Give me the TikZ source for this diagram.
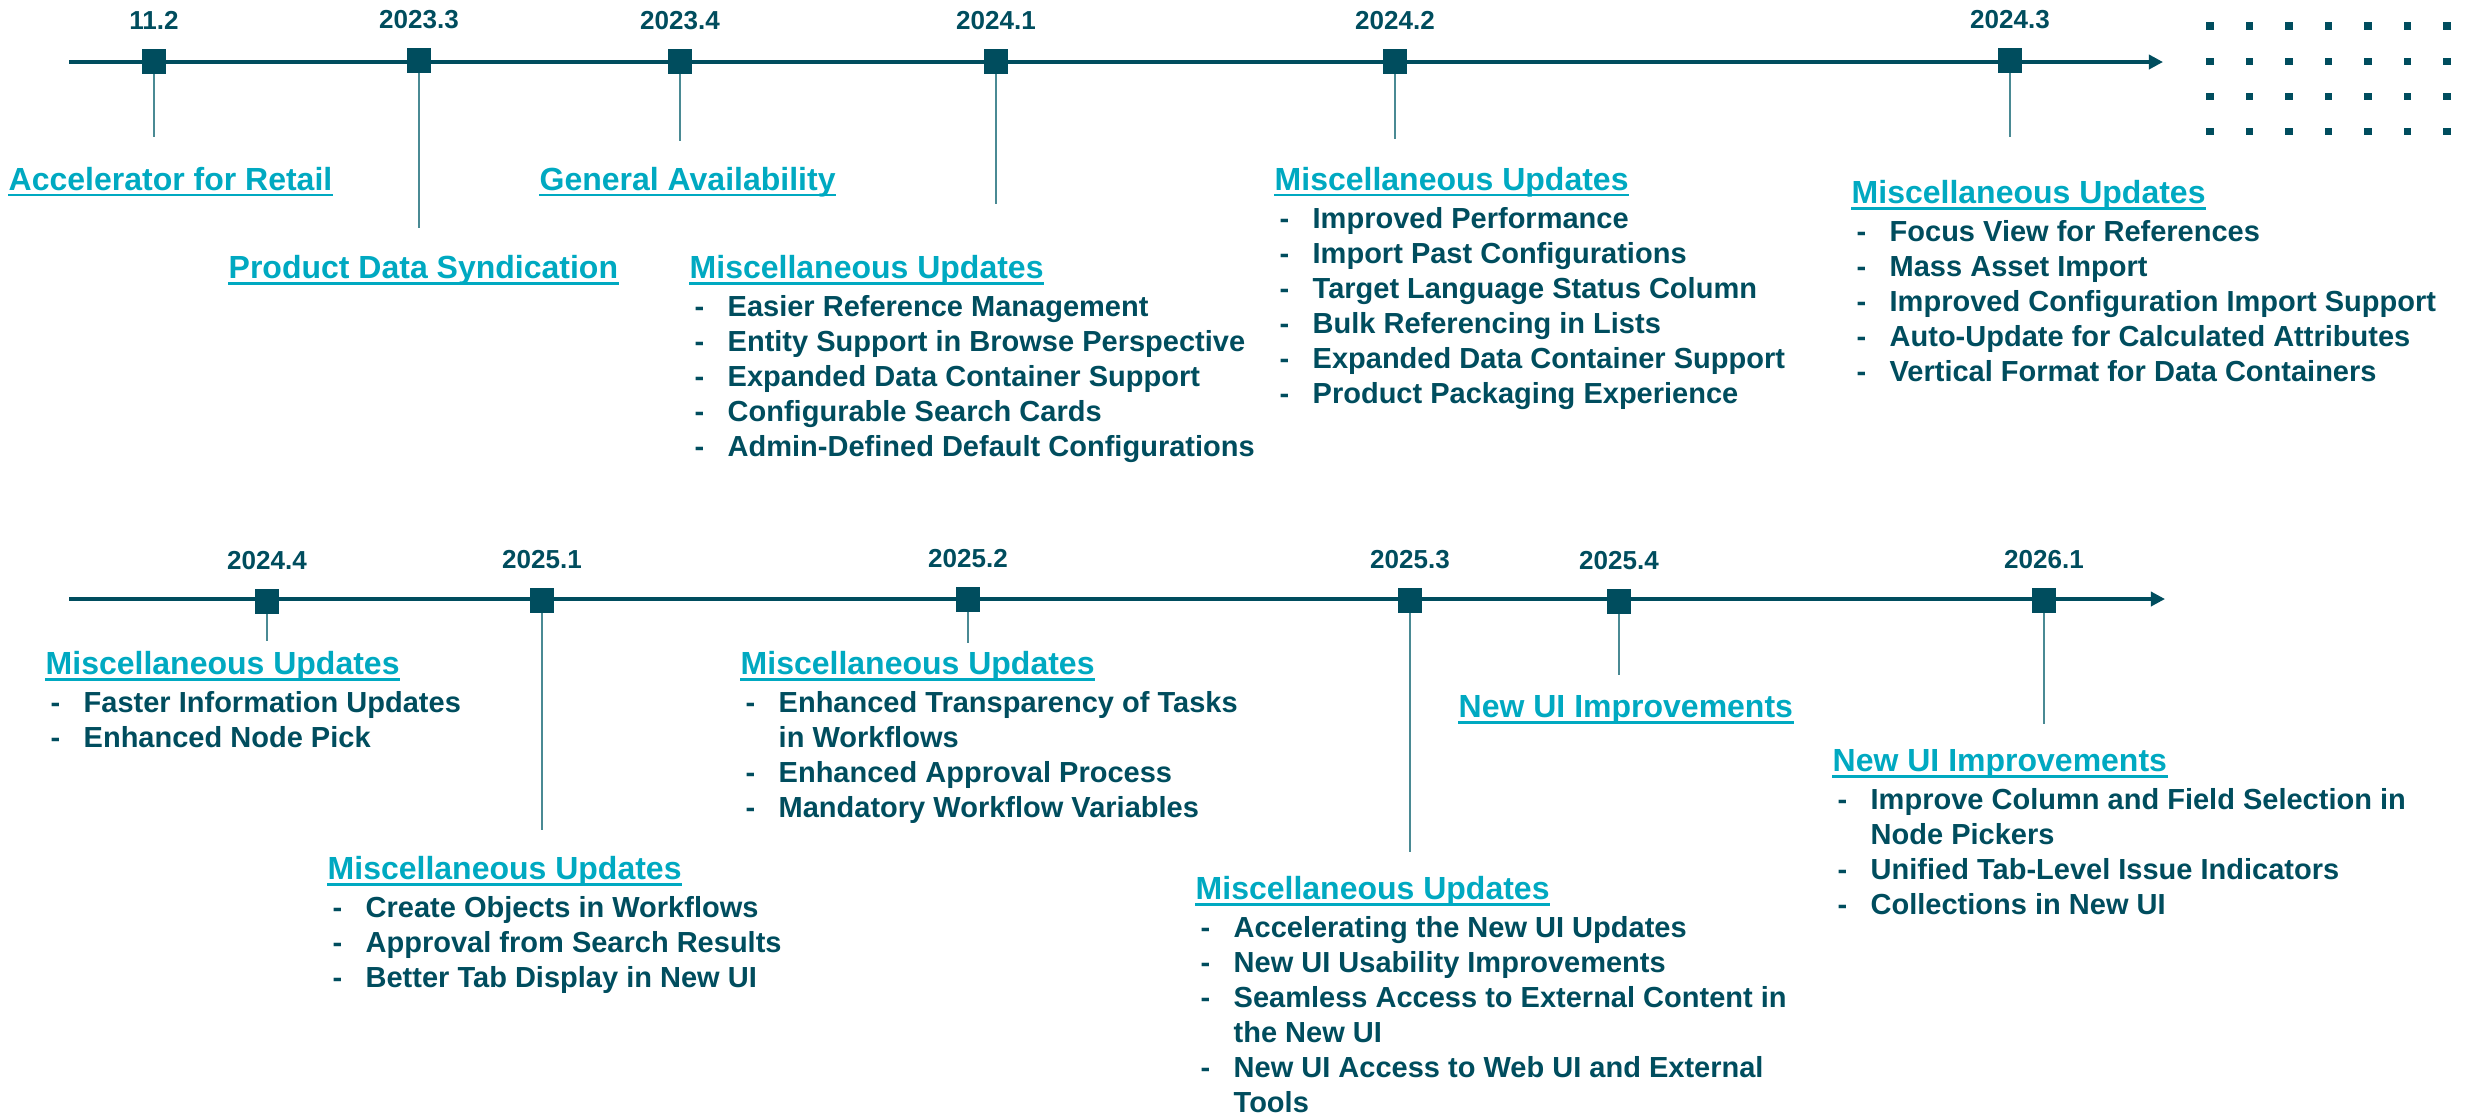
\documentclass[tikz,border=0pt]{standalone}
\usepackage{fontspec}
\setmainfont{Liberation Sans}
\usetikzlibrary{arrows.meta,positioning}

\definecolor{deep}{HTML}{004D5E}
\definecolor{stemc}{HTML}{4A8A94}
\definecolor{tealt}{HTML}{00A9C1}

\newcommand\datefont{\fontsize{7.4pt}{9pt}\selectfont\bfseries}
\newcommand\headfont{\fontsize{9.1pt}{11pt}\selectfont\bfseries}
\newcommand\itemfont{\fontsize{8.25pt}{9.96pt}\selectfont\bfseries}
\newcommand\itm[1]{\strut\makebox[9.4pt][l]{-}#1}
\newcommand\cnt[1]{\strut\hspace*{9.4pt}#1}

\tikzset{
  axis/.style={deep,line width=0.94pt,-{Triangle[length=4pt,width=4pt]}},
  mark box/.style={rectangle,fill=deep,inner sep=0,minimum width=6.83pt,minimum height=7.11pt},
  stem/.style={stemc,line width=0.57pt},
  date/.style={text=deep,font=\datefont,anchor=base,inner sep=0},
  head/.style={text=tealt,font=\headfont,anchor=base west,inner sep=0},
  uline/.style={tealt,line width=0.85pt},
  items/.style={text=deep,font=\itemfont,align=left,inner sep=0},
  dot/.style={rectangle,fill=deep,inner sep=0,minimum width=2pt,minimum height=2pt}
}

\begin{document}
\begin{tikzpicture}[x=0.01cm,y=-0.01cm]
\useasboundingbox (0,0) rectangle (2468,1114);

% the two time axes
\coordinate (top start) at (69,62);
\coordinate (top end) at (2163,62);
\coordinate (low start) at (69,599);
\coordinate (low end) at (2165,599);
\draw[axis] (top start) -- (top end);
\draw[axis] (low start) -- (low end);

% milestones: name/x/y/date/end of stem
\foreach \n/\px/\py/\d/\e in {a/154/61/11.2/137, b/419/60/2023.3/228, c/680/61/2023.4/141,
  d/996/61/2024.1/204, e/1395/61/2024.2/139, f/2010/60/2024.3/137,
  g/267/601/2024.4/641, h/542/600/2025.1/830, i/968/599/2025.2/643,
  j/1410/600/2025.3/852, k/1619/601/2025.4/675, l/2044/600/2026.1/724}{
  \coordinate (s\n) at (\px,\e);
  \draw[stem] (\px,\py) -- (s\n);
  \node[mark box] (m\n) at (\px,\py) {};
  \node[date] (d\n) at ([yshift=9pt]m\n.center) {\d};
}

% dot grid
\foreach \i in {0,...,6}
  \foreach \j in {0,...,3}
    \node[dot] (p\i\j) at (2210+39.5*\i,26+35.3*\j) {};

% headings
\node[head] (ta) at (8,190) {Accelerator for Retail};
\node[head] (tb) at (228,278) {Product Data Syndication};
\node[head] (tc) at (539,190) {General Availability};
\node[head] (td) at (689,278) {Miscellaneous Updates};
\node[head] (te) at (1274,190) {Miscellaneous Updates};
\node[head] (tf) at (1851,203) {Miscellaneous Updates};
\node[head] (tg) at (45,674) {Miscellaneous Updates};
\node[head] (th) at (327,879) {Miscellaneous Updates};
\node[head] (ti) at (740,674) {Miscellaneous Updates};
\node[head] (tj) at (1195,899) {Miscellaneous Updates};
\node[head] (tk) at (1458,717) {New UI Improvements};
\node[head] (tl) at (1832,771) {New UI Improvements};
\foreach \n in {a,b,c,d,e,f,g,h,i,j,k,l}
  \draw[uline] ([yshift=-1.42pt]t\n.base west) -- ([yshift=-1.42pt]t\n.base east);

% item lists
\node[items,below right=3.84pt and 1.4pt of td.base west] (id) {%
  \itm{Easier Reference Management}\\
  \itm{Entity Support in Browse Perspective}\\
  \itm{Expanded Data Container Support}\\
  \itm{Configurable Search Cards}\\
  \itm{Admin-Defined Default Configurations}};
\node[items,below right=3.84pt and 1.4pt of te.base west] (ie) {%
  \itm{Improved Performance}\\
  \itm{Import Past Configurations}\\
  \itm{Target Language Status Column}\\
  \itm{Bulk Referencing in Lists}\\
  \itm{Expanded Data Container Support}\\
  \itm{Product Packaging Experience}};
\node[items,below right=3.84pt and 1.4pt of tf.base west] (if) {%
  \itm{Focus View for References}\\
  \itm{Mass Asset Import}\\
  \itm{Improved Configuration Import Support}\\
  \itm{Auto-Update for Calculated Attributes}\\
  \itm{Vertical Format for Data Containers}};
\node[items,below right=3.84pt and 1.4pt of tg.base west] (ig) {%
  \itm{Faster Information Updates}\\
  \itm{Enhanced Node Pick}};
\node[items,below right=3.84pt and 1.4pt of th.base west] (ih) {%
  \itm{Create Objects in Workflows}\\
  \itm{Approval from Search Results}\\
  \itm{Better Tab Display in New UI}};
\node[items,below right=3.84pt and 1.4pt of ti.base west] (ii) {%
  \itm{Enhanced Transparency of Tasks}\\
  \cnt{in Workflows}\\
  \itm{Enhanced Approval Process}\\
  \itm{Mandatory Workflow Variables}};
\node[items,below right=3.84pt and 1.4pt of tj.base west] (ij) {%
  \itm{Accelerating the New UI Updates}\\
  \itm{New UI Usability Improvements}\\
  \itm{Seamless Access to External Content in}\\
  \cnt{the New UI}\\
  \itm{New UI Access to Web UI and External}\\
  \cnt{Tools}};
\node[items,below right=3.84pt and 1.4pt of tl.base west] (il) {%
  \itm{Improve Column and Field Selection in}\\
  \cnt{Node Pickers}\\
  \itm{Unified Tab-Level Issue Indicators}\\
  \itm{Collections in New UI}};
\end{tikzpicture}
\end{document}
